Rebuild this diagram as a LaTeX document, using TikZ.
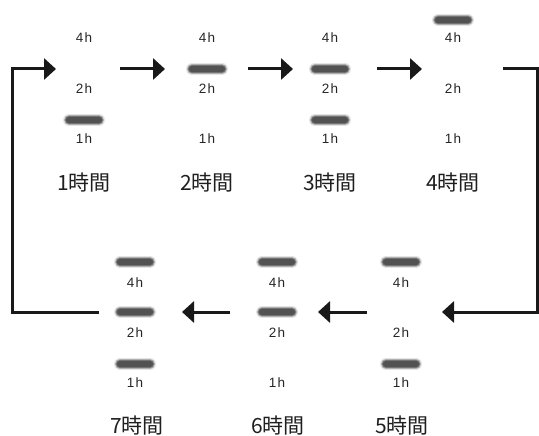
\documentclass[tikz,border=0pt]{standalone}
\usepackage{fontspec}
\setmainfont{Liberation Sans}
\newfontfamily\lblfont[LetterSpace=8]{Liberation Sans}
\newfontfamily\cjk{Noto Sans CJK JP}
\usetikzlibrary{arrows.meta}
\tikzset{
  lbl/.style={font=\lblfont\fontsize{13.5}{13.5}\selectfont, text=black!85, inner sep=0pt},
  ttl/.style={font=\cjk\fontsize{21}{21}\selectfont, text=black!88, inner sep=0pt},
  conn/.style={line width=3pt, draw=black!90, -{Triangle[length=12pt,width=21pt]}},
  fb/.style={line width=3pt, draw=black!90, -{Triangle[length=12pt,width=21pt]}},
}
\newcommand{\gelbar}[2]{%
  \draw[line cap=round, line width=12pt, black!70, opacity=0.15] (#1-15,#2) -- (#1+15,#2);
  \draw[line cap=round, line width=10pt, black!70, opacity=0.35] (#1-15,#2) -- (#1+15,#2);
  \draw[line cap=round, line width=8pt, black!70, opacity=0.6] (#1-15,#2) -- (#1+15,#2);
  \draw[line cap=round, line width=6pt, black!68] (#1-15,#2) -- (#1+15,#2);
}
\begin{document}
\begin{tikzpicture}[x=1pt,y=-1pt]
\useasboundingbox (0,0) rectangle (539,436);
% top row labels
\foreach \n/\x in {1/84,2/207,3/330,4/453}{
  \node[lbl] (t\n a) at (\x,38) {4h};
  \node[lbl] (t\n b) at (\x,89) {2h};
  \node[lbl] (t\n c) at (\x,139) {1h};
}
\node[ttl] (T1) at (84,183) {1時間};
\node[ttl] (T2) at (207,183) {2時間};
\node[ttl] (T3) at (330,183) {3時間};
\node[ttl] (T4) at (453,183) {4時間};
% bottom row labels
\foreach \n/\x in {5/401,6/277,7/135}{
  \node[lbl] (b\n a) at (\x,283) {4h};
  \node[lbl] (b\n b) at (\x,333) {2h};
  \node[lbl] (b\n c) at (\x,383) {1h};
}
\node[ttl] (T5) at (402,426) {5時間};
\node[ttl] (T6) at (278,426) {6時間};
\node[ttl] (T7) at (137,426) {7時間};
% bands
\gelbar{84}{120}
\gelbar{207}{69}
\gelbar{330}{69}
\gelbar{330}{120}
\gelbar{453}{20}
\gelbar{401}{262}
\gelbar{401}{364}
\gelbar{277}{262}
\gelbar{277}{312}
\gelbar{135}{262}
\gelbar{135}{312}
\gelbar{135}{364}
% connector coordinates
\coordinate (a1s) at (120,69); \coordinate (a1e) at (165,69);
\coordinate (a2s) at (248,69); \coordinate (a2e) at (293,69);
\coordinate (a3s) at (377,69); \coordinate (a3e) at (422,69);
\coordinate (rs) at (503,69); \coordinate (rc) at (537,312); \coordinate (re) at (442,312);
\coordinate (a5s) at (367,312); \coordinate (a5e) at (318,312);
\coordinate (a6s) at (230,312); \coordinate (a6e) at (182,312);
\coordinate (ls) at (99,312); \coordinate (lc) at (12,69); \coordinate (le) at (56,69);
\draw[conn] (a1s) -- (a1e);
\draw[conn] (a2s) -- (a2e);
\draw[conn] (a3s) -- (a3e);
\draw[fb] (rs) -| (rc) -- (re);
\draw[conn] (a5s) -- (a5e);
\draw[conn] (a6s) -- (a6e);
\draw[fb] (ls) -| (lc) -- (le);
\end{tikzpicture}
\end{document}
